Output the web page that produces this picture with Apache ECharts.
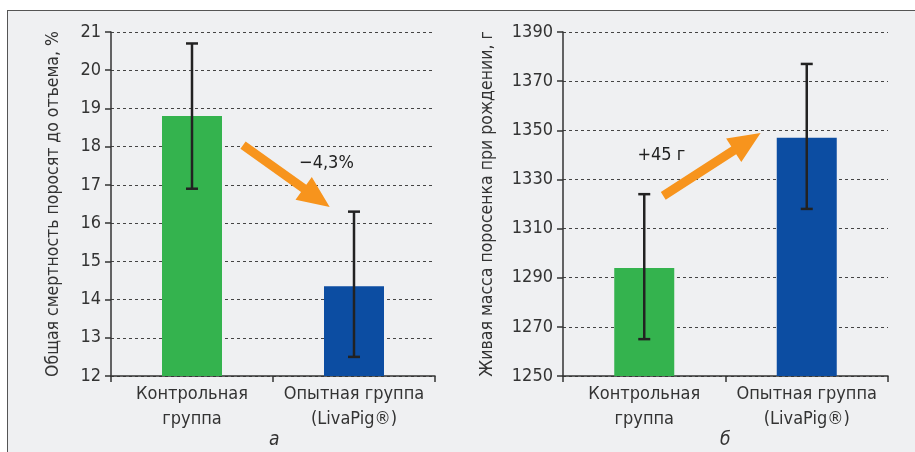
<!DOCTYPE html>
<html>
<head>
<meta charset="utf-8">
<script src="https://cdn.jsdelivr.net/npm/echarts@6/dist/echarts.min.js"></script>
<style>
    html, body { margin: 0; padding: 0; background: #fff; }
    .frame {
        position: absolute;
        left: 7px;
        top: 10px;
        width: 908px;
        height: 442px;
        background: #eff0f2;
        border-top: 1.5px solid #555;
        border-left: 1.5px solid #555;
    }
    #chart {
        position: absolute;
        left: 0;
        top: 0;
        width: 915px;
        height: 452px;
    }
</style>
</head>
<body>
<div class="frame"></div>
<div id="chart"></div>
<script>
    // категории
    const categories = ['Контрольная\nгруппа', 'Опытная группа\n(LivaPig®)']
    // а: смертность, %
    const mortality = [18.8, 14.35]
    const mortalityErr = [[16.9, 20.7], [12.5, 16.3]]
    const mortalityTicks = [12, 21, 1]
    // б: живая масса, г
    const weight = [1294, 1347]
    const weightErr = [[1265, 1324], [1318, 1377]]
    const weightTicks = [1250, 1390, 20]
    // стрелки [x0, y0, x1, y1]; x: 0 = первый столбец, 1 = второй
    const arrowA = [0.315, 18.04, 0.85, 16.42]
    const arrowB = [0.117, 1323.3, 0.716, 1348.9]
    const labelA = [0.83, 17.57, '−4,3%']
    const labelB = [0.105, 1340, '+45 г']

    const barColors = ['#34b34e', '#0c4da2']
    const font = 'DejaVu Sans Condensed'
    const textColor = '#333'

    const chart = echarts.init(document.getElementById('chart'))

    function yAxisOf(gridIndex, ticks, name, gap) {
        return {
            type: 'value',
            gridIndex: gridIndex,
            min: ticks[0],
            max: ticks[1],
            interval: ticks[2],
            name: name,
            nameLocation: 'middle',
            nameGap: gap,
            nameTextStyle: { fontFamily: font, fontSize: 17.5, color: textColor },
            axisLine: { show: true, onZero: false, lineStyle: { color: '#333', width: 1.5 } },
            axisTick: { show: true, length: 6, lineStyle: { color: '#333', width: 1.5 } },
            axisLabel: { fontFamily: font, fontSize: 18, color: textColor, margin: 10, formatter: v => String(v) },
            splitLine: { show: true, lineStyle: { color: '#444', type: [3, 3], width: 1 } }
        }
    }

    function xAxisOf(gridIndex) {
        return {
            type: 'category',
            gridIndex: gridIndex,
            data: categories,
            axisLine: { onZero: false, lineStyle: { color: '#333', width: 1.5 } },
            axisTick: { show: true, length: 6, lineStyle: { color: '#333', width: 1.5 } },
            axisLabel: { interval: 0, hideOverlap: false, fontFamily: font, fontSize: 18, color: textColor, lineHeight: 25, margin: 6 }
        }
    }

    // скрытая ось для стрелок и подписей
    function helperX(gridIndex) {
        return { type: 'value', gridIndex: gridIndex, min: -0.5, max: 1.5, show: false }
    }

    // усы ошибок
    function errorSeries(idx, err) {
        return {
            type: 'custom',
            xAxisIndex: idx,
            yAxisIndex: idx,
            z: 5,
            data: err.map((e, i) => [i, e[0], e[1]]),
            renderItem: function (params, api) {
                const lo = api.coord([api.value(0), api.value(1)])
                const hi = api.coord([api.value(0), api.value(2)])
                const half = 6
                const style = { stroke: '#222', lineWidth: 2.5 }
                return {
                    type: 'group',
                    children: [
                        { type: 'line', shape: { x1: lo[0], y1: lo[1], x2: hi[0], y2: hi[1] }, style: style },
                        { type: 'line', shape: { x1: lo[0] - half, y1: lo[1], x2: lo[0] + half, y2: lo[1] }, style: style },
                        { type: 'line', shape: { x1: hi[0] - half, y1: hi[1], x2: hi[0] + half, y2: hi[1] }, style: style }
                    ]
                }
            }
        }
    }

    // оранжевая стрелка
    function arrowSeries(xIdx, yIdx, arrow, label) {
        return {
            type: 'custom',
            xAxisIndex: xIdx,
            yAxisIndex: yIdx,
            z: 6,
            data: [arrow],
            renderItem: function (params, api) {
                const p0 = api.coord([api.value(0), api.value(1)])
                const p1 = api.coord([api.value(2), api.value(3)])
                const dx = p1[0] - p0[0], dy = p1[1] - p0[1]
                const len = Math.sqrt(dx * dx + dy * dy)
                const ux = dx / len, uy = dy / len
                const nx = -uy, ny = ux
                const w = 4.5, hw = 14, hl = 32
                const bx = p1[0] - ux * hl, by = p1[1] - uy * hl
                const pts = [
                    [p0[0] + nx * w, p0[1] + ny * w],
                    [bx + nx * w, by + ny * w],
                    [bx + nx * hw, by + ny * hw],
                    [p1[0], p1[1]],
                    [bx - nx * hw, by - ny * hw],
                    [bx - nx * w, by - ny * w],
                    [p0[0] - nx * w, p0[1] - ny * w]
                ]
                const lp = api.coord([label[0], label[1]])
                return {
                    type: 'group',
                    children: [
                        { type: 'polygon', shape: { points: pts }, style: { fill: '#f7941d' } },
                        {
                            type: 'text',
                            x: lp[0], y: lp[1],
                            style: {
                                text: label[2], fontFamily: font, fontSize: 18, fill: '#222',
                                align: 'center', verticalAlign: 'middle'
                            }
                        }
                    ]
                }
            }
        }
    }

    const subStyle = { fontFamily: font, fontSize: 19, fontStyle: 'italic', fontWeight: 'normal', color: textColor }

    const option = {
        animation: false,
        backgroundColor: 'transparent',
        title: [
            { text: 'а', left: 264, top: 426, textStyle: subStyle },
            { text: 'б', left: 715, top: 426, textStyle: subStyle }
        ],
        grid: [
            { left: 111, top: 32, width: 324, height: 344 },
            { left: 563, top: 32, width: 325, height: 344 }
        ],
        xAxis: [xAxisOf(0), xAxisOf(1), helperX(0), helperX(1)],
        yAxis: [
            yAxisOf(0, mortalityTicks, 'Общая смертность поросят до отъема, %', 49),
            yAxisOf(1, weightTicks, 'Живая масса поросенка при рождении, г', 67)
        ],
        series: [
            {
                type: 'bar', xAxisIndex: 0, yAxisIndex: 0, barWidth: 60,
                data: mortality.map((v, i) => ({ value: v, itemStyle: { color: barColors[i] } }))
            },
            {
                type: 'bar', xAxisIndex: 1, yAxisIndex: 1, barWidth: 60,
                data: weight.map((v, i) => ({ value: v, itemStyle: { color: barColors[i] } }))
            },
            errorSeries(0, mortalityErr),
            errorSeries(1, weightErr),
            arrowSeries(2, 0, arrowA, labelA),
            arrowSeries(3, 1, arrowB, labelB)
        ]
    }
    chart.setOption(option)
</script>
</body>
</html>
